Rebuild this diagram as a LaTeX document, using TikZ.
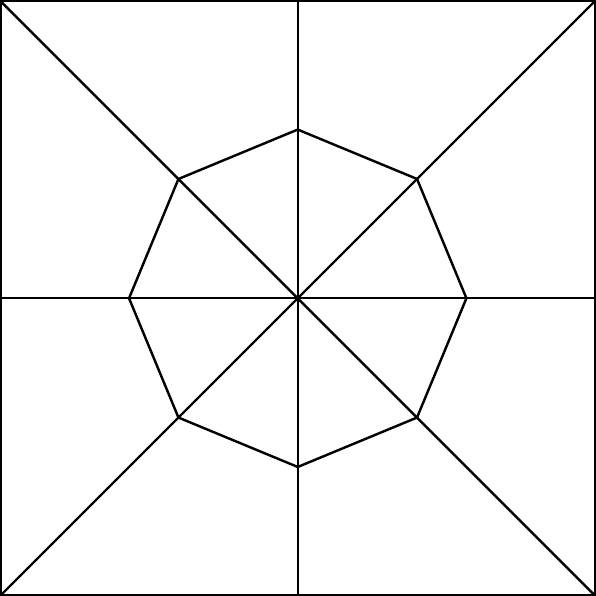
\documentclass[tikz,border=0pt]{standalone}
\usepackage{tikz}
\usetikzlibrary{calc}

\begin{document}
\begin{tikzpicture}[scale=0.6,line width=0.7pt]
                    \useasboundingbox ([shift={(-0.35pt,-0.35pt)}]-5,-5) rectangle ([shift={(0.35pt,0.6pt)}]5,5);
                    \coordinate (O) at (0,0);
                    \coordinate (A) at (-5,-5);
                    \coordinate (B) at (5,-5);
                    \coordinate (C) at (5,5);
                    \coordinate (D) at (-5,5);
                    \draw (A) -- (B) -- (C) -- (D) -- cycle;
                    \draw (A) -- (C);
                    \draw (B) -- (D);
                    \draw ($(A)!0.5!(D)$) -- ($(B)!0.5!(C)$);
                    \draw ($(A)!0.5!(B)$) -- ($(D)!0.5!(C)$);
                    \draw (0:2.84) \foreach \a in {45,90,...,315} { -- (\a:2.84) } -- cycle;
                \end{tikzpicture}
\end{document}
